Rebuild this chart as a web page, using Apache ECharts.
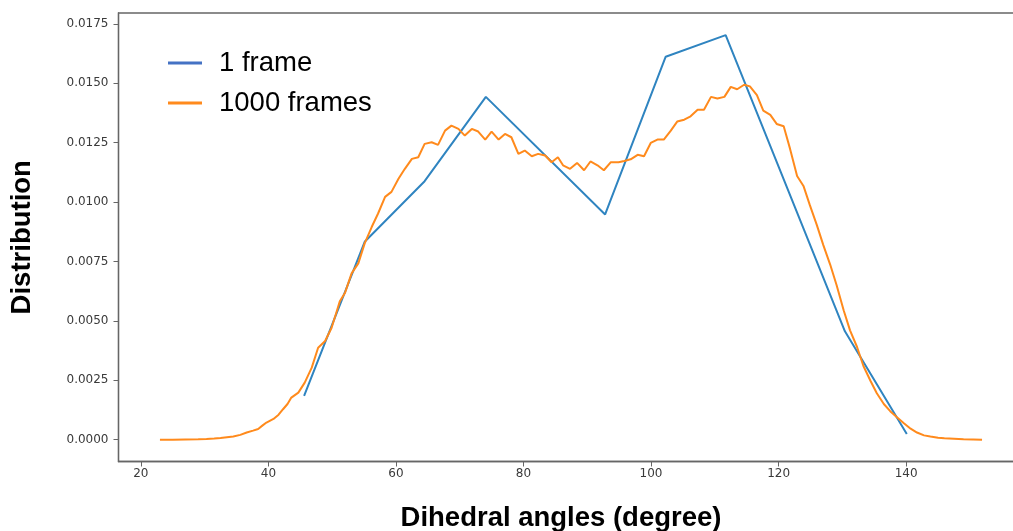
<!DOCTYPE html>
<html>
<head>
<meta charset="utf-8">
<title>Dihedral angle distribution</title>
<script src="https://cdn.jsdelivr.net/npm/echarts@6/dist/echarts.min.js"></script>
<style>
  html, body { margin: 0; padding: 0; background: #fff; }
  #chart { width: 1013px; height: 531px; }
</style>
</head>
<body>
<div id="chart"></div>
<script>
// Single-frame histogram (degrees, density)
const angles1 = [45.6, 55.1, 64.5, 74.1, 92.8, 102.3, 111.7, 130.4, 140.1];
const dist1 = [0.00184, 0.00833, 0.01088, 0.01443, 0.00948, 0.01612, 0.01703, 0.00456, 0.00024];

// Histogram accumulated over 1000 frames
const angles1000 = [
  23.0, 25.0, 27.0, 29.0, 30.3, 31.5, 32.5, 33.5, 34.5, 35.6,
  36.6, 37.6, 38.4, 39.1, 39.7, 40.8, 41.6, 42.3, 43.0, 43.6,
  44.7, 45.7, 46.8, 47.8, 48.9, 49.9, 50.6, 51.2, 52.0, 53.05,
  54.1, 55.1, 56.2, 57.2, 58.3, 59.3, 60.4, 61.4, 62.5, 63.5,
  64.5, 65.6, 66.6, 67.7, 68.7, 69.8, 70.8, 71.9, 72.9, 74.0,
  75.0, 76.1, 77.1, 78.1, 79.2, 80.2, 81.3, 82.3, 83.4, 84.4,
  85.4, 86.2, 87.3, 88.4, 89.5, 90.5, 91.6, 92.6, 93.7, 94.9,
  95.8, 96.8, 97.9, 98.9, 99.95, 101.0, 102.0, 103.1, 104.1, 105.2,
  106.2, 107.3, 108.3, 109.4, 110.4, 111.5, 112.5, 113.5, 114.6, 115.5,
  116.6, 117.6, 118.7, 119.7, 120.8, 121.8, 122.9, 123.9, 124.9, 126.0,
  127.0, 128.1, 129.1, 130.2, 131.2, 132.3, 133.3, 134.4, 135.4, 136.5,
  137.5, 138.6, 139.6, 140.7, 141.7, 142.8, 143.8, 145.0, 146.0, 147.5,
  149.0, 150.5, 151.9
];
const dist1000 = [
  0.00000, 0.00000, 0.00001, 0.00002, 0.00003, 0.00005, 0.00007, 0.00010, 0.00013, 0.00020,
  0.00030, 0.00038, 0.00045, 0.00060, 0.00072, 0.00087, 0.00105, 0.00128, 0.00150, 0.00177,
  0.00198, 0.00240, 0.00303, 0.00387, 0.00415, 0.00470, 0.00530, 0.00582, 0.00617, 0.00700,
  0.00742, 0.00826, 0.00895, 0.00952, 0.01022, 0.01043, 0.01098, 0.01140, 0.01182, 0.01189,
  0.01245, 0.01252, 0.01241, 0.01301, 0.01322, 0.01308, 0.01280, 0.01308, 0.01297, 0.01263,
  0.01297, 0.01263, 0.01287, 0.01273, 0.01203, 0.01217, 0.01193, 0.01203, 0.01196, 0.01168,
  0.01189, 0.01155, 0.01140, 0.01165, 0.01134, 0.01171, 0.01155, 0.01134, 0.01168, 0.01168,
  0.01173, 0.01180, 0.01199, 0.01193, 0.01249, 0.01263, 0.01263, 0.01301, 0.01339, 0.01347,
  0.01361, 0.01389, 0.01389, 0.01443, 0.01436, 0.01443, 0.01485, 0.01475, 0.01494, 0.01487,
  0.01450, 0.01385, 0.01367, 0.01329, 0.01319, 0.01224, 0.01110, 0.01068, 0.00987, 0.00903,
  0.00820, 0.00736, 0.00650, 0.00545, 0.00460, 0.00390, 0.00310, 0.00248, 0.00195, 0.00150,
  0.00120, 0.00093, 0.00070, 0.00046, 0.00030, 0.00018, 0.00013, 0.00008, 0.00006, 0.00004,
  0.00002, 0.00001, 0.00000
];

// Axis ticks
const xTicks = [20, 40, 60, 80, 100, 120, 140];
const yTicks = [0, 0.0025, 0.005, 0.0075, 0.01, 0.0125, 0.015, 0.0175];

const seriesNames = ['1 frame', '1000 frames'];

const pairs = (xs, ys) => xs.map((x, i) => [x, ys[i]]);

const chart = echarts.init(document.getElementById('chart'), null, { renderer: 'canvas' });

const tickFont = { fontFamily: 'DejaVu Sans', fontSize: 12, color: '#3a3a3a' };
const titleFont = { fontFamily: 'Liberation Sans', fontSize: 27.5, fontWeight: 'bold', color: '#000' };
const spine = { lineStyle: { color: '#666', width: 1.3 } };

chart.setOption({
  animation: false,
  backgroundColor: '#fff',
  grid: {
    left: 118.5,
    top: 13,
    width: 905,
    height: 448.5,
    show: true,
    borderColor: '#666',
    borderWidth: 1.3,
    outerBoundsMode: 'none'
  },
  legend: {
    orient: 'vertical',
    left: 168,
    top: 49,
    padding: 0,
    icon: 'rect',
    itemWidth: 34,
    itemHeight: 3,
    itemGap: 12,
    textStyle: {
      fontFamily: 'Liberation Sans',
      fontSize: 27.5,
      color: '#000',
      padding: [0, 0, 0, 12]
    },
    data: [
      { name: seriesNames[0], itemStyle: { color: '#4472c4' } },
      { name: seriesNames[1], itemStyle: { color: '#ff8a1c' } }
    ]
  },
  xAxis: {
    type: 'value',
    min: 16.5,
    max: 158.4,
    name: 'Dihedral angles (degree)',
    nameLocation: 'middle',
    nameGap: 43,
    nameTextStyle: Object.assign({ padding: [0, 20, 0, 0] }, titleFont),
    axisLine: Object.assign({ show: true, onZero: false }, spine),
    axisTick: { show: true, length: 5, customValues: xTicks, lineStyle: { color: '#666', width: 1 } },
    axisLabel: { customValues: xTicks, margin: 6, ...tickFont },
    splitLine: { show: false }
  },
  yAxis: {
    type: 'value',
    min: -0.00092,
    max: 0.01796,
    name: 'Distribution',
    nameLocation: 'middle',
    nameGap: 82,
    nameRotate: 90,
    nameTextStyle: titleFont,
    axisLine: Object.assign({ show: true, onZero: false }, spine),
    axisTick: { show: true, length: 5, customValues: yTicks, lineStyle: { color: '#666', width: 1 } },
    axisLabel: {
      customValues: yTicks,
      margin: 10,
      formatter: v => v.toFixed(4),
      ...tickFont
    },
    splitLine: { show: false }
  },
  series: [
    {
      name: seriesNames[0],
      type: 'line',
      data: pairs(angles1, dist1),
      symbol: 'none',
      lineStyle: { color: '#2f84c0', width: 2 },
      itemStyle: { color: '#2f84c0' },
      z: 2
    },
    {
      name: seriesNames[1],
      type: 'line',
      data: pairs(angles1000, dist1000),
      symbol: 'none',
      lineStyle: { color: '#ff8a1c', width: 2 },
      itemStyle: { color: '#ff8a1c' },
      z: 3
    }
  ]
});
</script>
</body>
</html>
